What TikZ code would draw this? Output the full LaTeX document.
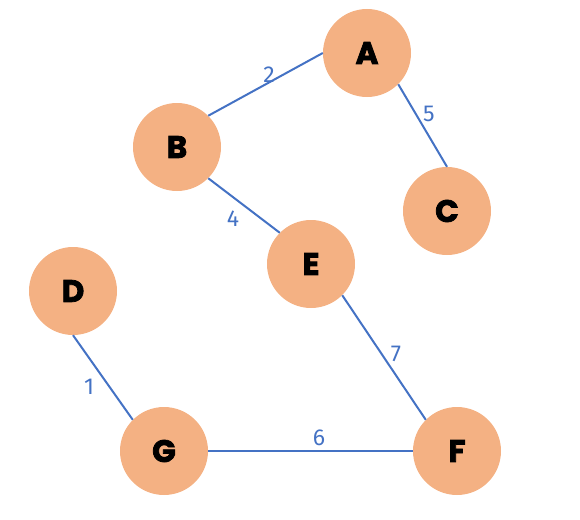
\documentclass[tikz,border=0pt]{standalone}
\usepackage{fontspec}
\setmainfont{Fira Sans}
\newfontfamily\nodefont{Poppins}[BoldFeatures={FakeBold=2.5}]
\definecolor{nodefill}{HTML}{F4B183}
\definecolor{edgeblue}{HTML}{4472C4}
\begin{document}
\begin{tikzpicture}[x=1pt,y=-1pt,
  vert/.style={circle,fill=nodefill,minimum size=88pt,inner sep=0pt,font=\nodefont\bfseries\fontsize{31}{31}\selectfont},
  edge/.style={draw=edgeblue,line width=2pt},
  wlab/.style={text=edgeblue,font=\fontsize{23}{23}\selectfont,inner sep=0pt}]
\useasboundingbox (0,0) rectangle (580,519);
\node[vert] (A) at (367,53) {A};
\node[vert] (B) at (177,147) {B};
\node[vert] (C) at (447,211) {C};
\node[vert] (D) at (73,291) {D};
\node[vert] (E) at (311,264) {E};
\node[vert] (F) at (457,451) {F};
\node[vert] (G) at (164,451) {G};
\draw[edge] (A.west) -- (B.north east);
\draw[edge] (A.south east) -- (C.north);
\draw[edge] (B.south east) -- (E.north west);
\draw[edge] (E.south east) -- (F.north west);
\draw[edge] (D.south) -- (G.north west);
\draw[edge] (G.east) -- (F.west);
\node[wlab] (l2) at (269,75) {2};
\node[wlab] (l5) at (429,114) {5};
\node[wlab] (l4) at (233,219) {4};
\node[wlab] (l7) at (396,354) {7};
\node[wlab] (l1) at (89,387) {1};
\node[wlab] (l6) at (319,438) {6};
\end{tikzpicture}
\end{document}
